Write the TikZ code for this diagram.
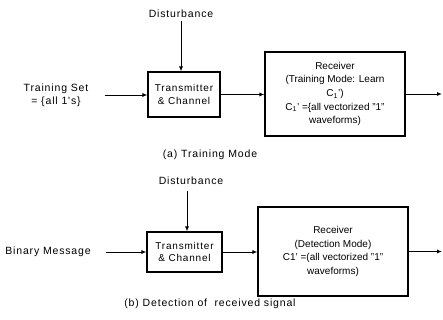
\documentclass[tikz,border=0pt]{standalone}
\usepackage{fontspec}
\setmainfont{Liberation Sans}
\newfontfamily\widefont{Liberation Sans}[LetterSpace=8]
\usepackage{tikz}
\usetikzlibrary{arrows.meta, positioning}

\begin{document}
\begin{tikzpicture}[
    x=1pt, y=1pt,
    box/.style={rectangle, draw, line width=1.1pt, align=center, inner sep=2pt,
        font=\fontsize{10}{13.7}\selectfont},
    txbox/.style={box, font=\widefont\fontsize{10}{12.5}\selectfont},
    lbl/.style={align=center, font=\widefont\fontsize{10.5}{13}\selectfont},
    arrow/.style={-{Latex[length=5pt,width=4pt]}, line width=0.9pt}
]
\useasboundingbox (0,0) rectangle (443,-320);

% (a) training mode
\node[lbl] (dist1) at (181,-14) {Disturbance};
\node[txbox, minimum width=72pt, minimum height=45pt] (tx1) at (184,-94.5) {Transmitter\\\& Channel};
\node[lbl] (train1) at (56,-95) {Training Set\\= \{all 1's\}};
\node[box, minimum width=140pt, minimum height=84pt] (rx1) at (335,-94)
    {Receiver\\(Training Mode: Learn\\C\textsubscript{1}')\\C\textsubscript{1}' =\{all vectorized "1"\\waveforms)};
\coordinate (out1) at (442,-94);
\node[lbl] (capa) at (210,-155) {(a) Training Mode};

\draw[arrow] (dist1.south) -- (dist1.south |- tx1.north);
\draw[arrow, shorten <=13pt] (train1.east) -- (train1.east -| tx1.west);
\draw[arrow] (tx1.east) -- (tx1.east -| rx1.west);
\draw[arrow] (rx1.east) -- (out1);

% (b) detection
\node[lbl] (dist2) at (191,-181) {Disturbance};
\node[txbox, minimum width=75pt, minimum height=40pt] (tx2) at (184.5,-252) {Transmitter\\\& Channel};
\node[lbl] (bin2) at (48,-252) {Binary Message};
\node[box, minimum width=150pt, minimum height=89pt] (rx2) at (333,-251.5)
    {Receiver\\(Detection Mode)\\C1' =(all vectorized "1"\\waveforms)};
\coordinate (out2) at (442,-251.5);
\node[lbl] (capb) at (210,-304) {(b) Detection of\ \ received signal};

\draw[arrow, shorten <=3pt] ([xshift=-4pt]dist2.south) -- ([xshift=-4pt]dist2.south |- tx2.north);
\draw[arrow, shorten <=12pt] (bin2.east) -- (bin2.east -| tx2.west);
\draw[arrow] (tx2.east) -- (tx2.east -| rx2.west);
\draw[arrow] (rx2.east) -- (out2);
\end{tikzpicture}
\end{document}
